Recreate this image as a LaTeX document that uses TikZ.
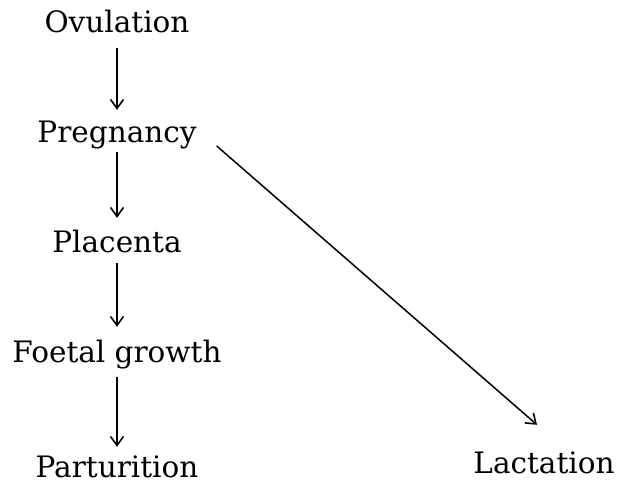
\documentclass[tikz,border=0pt]{standalone}
\usepackage{fontspec}
\setmainfont{DejaVu Serif}
\usetikzlibrary{arrows.meta}
\begin{document}
\begin{tikzpicture}[x=1pt,y=-1pt,
  lbl/.style={anchor=base,inner sep=0pt,text height=24pt,text depth=8pt,font=\fontsize{29.5}{35}\selectfont},
  arr/.style={line width=1.5pt,-{Straight Barb[length=9pt,width=13pt,line width=1.6pt]}}]
\useasboundingbox (0,0) rectangle (631,493);
\node[lbl] (ov) at (117,32) {Ovulation};
\node[lbl] (pr) at (117,142) {Pregnancy};
\node[lbl] (pl) at (117,252) {Placenta};
\node[lbl] (fg) at (117,362) {Foetal growth};
\node[lbl] (pa) at (117,477) {Parturition};
\node[lbl] (la) at (544,473) {Lactation};
\draw[arr,shorten <=8pt,shorten >=8pt] (ov) -- (pr);
\draw[arr,shorten <=2pt,shorten >=10pt] (pr) -- (pl);
\draw[arr,shorten <=3pt,shorten >=11pt] (pl) -- (fg);
\draw[arr,shorten <=7pt,shorten >=6pt] (fg) -- (pa);
\draw[arr] ([shift={(20,12)}]pr.east) -- ([shift={(-7,-24)}]la.north);
\end{tikzpicture}
\end{document}
